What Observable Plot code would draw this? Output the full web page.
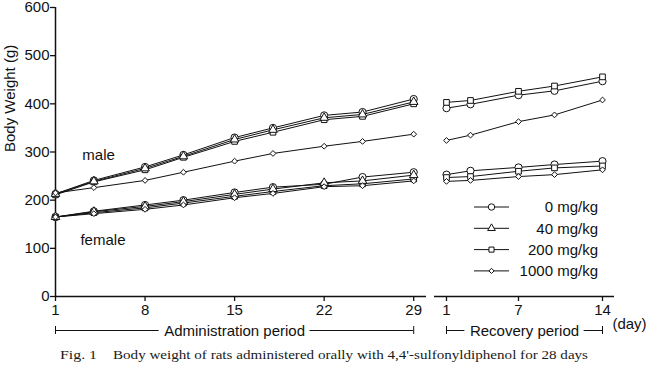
<!DOCTYPE html>
<html><head><meta charset="utf-8">
<script src="https://cdn.jsdelivr.net/npm/d3@7"></script>
<script src="https://cdn.jsdelivr.net/npm/@observablehq/plot@0.6"></script>
<style>
html,body{margin:0;padding:0;background:#fff;}
#chart{position:relative;width:648px;height:370px;overflow:hidden;font-family:"Liberation Sans",Arial,sans-serif;background:#fff;}
#chart > *{position:absolute;top:0;}
</style></head><body><div id="chart"></div>
<script>
const adminDays = [1, 4, 8, 11, 15, 18, 22, 25, 29];
const recoveryDays = [1, 3, 7, 10, 14];
const doses = ["0 mg/kg", "40 mg/kg", "200 mg/kg", "1000 mg/kg"];
const adminTicks = [1, 8, 15, 22, 29];
const recoveryTicks = [1, 7, 14];
const weightTicks = [0, 100, 200, 300, 400, 500, 600];

const maleAdmin0 = [213, 241, 269, 294, 330, 350, 376, 383, 410];
const maleAdmin40 = [213, 239, 266, 291, 326, 346, 371, 378, 404];
const maleAdmin200 = [211, 238, 263, 289, 322, 341, 367, 374, 400];
const maleAdmin1000 = [215, 226, 241, 258, 281, 297, 312, 322, 337];
const femaleAdmin0 = [165, 177, 190, 200, 216, 227, 233, 248, 258];
const femaleAdmin40 = [165, 176, 187, 197, 212, 223, 236, 240, 252];
const femaleAdmin200 = [165, 174, 184, 194, 208, 218, 230, 234, 244];
const femaleAdmin1000 = [165, 172, 181, 190, 205, 214, 228, 230, 240];

const maleRecovery0 = [391, 399, 418, 427, 447];
const maleRecovery200 = [403, 407, 426, 437, 456];
const maleRecovery1000 = [324, 335, 363, 377, 408];
const femaleRecovery0 = [253, 261, 268, 274, 281];
const femaleRecovery200 = [247, 249, 260, 267, 271];
const femaleRecovery1000 = [239, 241, 249, 253, 263];

const sexLabels = ["male", "female"];
const periodLabels = ["Administration period", "Recovery period"];
const captionFig = "Fig. 1";
const captionText = "Body weight of rats administered orally with 4,4'-sulfonyldiphenol for 28 days";

function series(sex, dose, days, values) {
  return days.map((day, i) => ({sex, dose, day, weight: values[i]}));
}
const adminData = [
  ...series("male", doses[3], adminDays, maleAdmin1000),
  ...series("male", doses[2], adminDays, maleAdmin200),
  ...series("male", doses[1], adminDays, maleAdmin40),
  ...series("male", doses[0], adminDays, maleAdmin0),
  ...series("female", doses[3], adminDays, femaleAdmin1000),
  ...series("female", doses[2], adminDays, femaleAdmin200),
  ...series("female", doses[1], adminDays, femaleAdmin40),
  ...series("female", doses[0], adminDays, femaleAdmin0)
];
const recoveryData = [
  ...series("male", doses[3], recoveryDays, maleRecovery1000),
  ...series("male", doses[2], recoveryDays, maleRecovery200),
  ...series("male", doses[0], recoveryDays, maleRecovery0),
  ...series("female", doses[3], recoveryDays, femaleRecovery1000),
  ...series("female", doses[2], recoveryDays, femaleRecovery200),
  ...series("female", doses[0], recoveryDays, femaleRecovery0)
];

const symbolRange = ["circle", "triangle", "square", "diamond2"];
const radius = {"0 mg/kg": 3.6, "40 mg/kg": 3.2, "200 mg/kg": 3.2, "1000 mg/kg": 2.6};
const font = "Liberation Sans, Arial, sans-serif";
const ink = "#111";

const ctx = document.createElement("canvas").getContext("2d");
ctx.font = "15px 'Liberation Sans'";
function textWidth(s) { return ctx.measureText(s).width; }

const common = {
  height: 370, marginTop: 7, marginBottom: 74,
  symbol: {domain: doses, range: symbolRange},
  r: {type: "identity"},
  style: {fontFamily: font, fontSize: "15px", background: "transparent", overflow: "visible", color: ink}
};

function dataMarks(data) {
  return [
    Plot.line(data, {x: "day", y: "weight", z: d => d.sex + d.dose, stroke: ink, strokeWidth: 1}),
    Plot.dot(data, {x: "day", y: "weight", symbol: "dose", r: d => radius[d.dose], fill: "white", stroke: ink, strokeWidth: 1})
  ];
}
function bracket(first, last, label, pxPerDay) {
  const mid = (first + last) / 2;
  const half = (textWidth(label) / 2 + 5) / pxPerDay;
  return [
    Plot.ruleY([0, 0], {x1: [first, mid + half], x2: [mid - half, last], dy: 34, stroke: ink, strokeWidth: 1}),
    Plot.ruleX([first, last], {y1: 0, y2: 0, insetTop: -4, insetBottom: -4, dy: 34, stroke: ink, strokeWidth: 1}),
    Plot.text([label], {x: mid, y: 0, dy: 35, text: d => d, fill: ink, fontSize: 15})
  ];
}

const leftW = 430, leftML = 55, leftMR = 4, leftDomain = [1, 30];
const rightW = 218, rightML = 4, rightMR = 34, rightDomain = [0, 15];

const left = Plot.plot({
  ...common,
  width: leftW, marginLeft: leftML, marginRight: leftMR,
  x: {domain: leftDomain},
  y: {domain: [0, 600]},
  marks: [
    Plot.ruleY([0], {stroke: ink, strokeWidth: 1.5}),
    Plot.ruleX([adminDays[0]], {stroke: ink, strokeWidth: 1.5}),
    Plot.axisY({ticks: weightTicks, tickSize: 5, tickPadding: 1, label: null, strokeWidth: 1.3}),
    Plot.axisX({ticks: adminTicks, tickSize: 5, tickPadding: 3, label: null, strokeWidth: 1.3}),
    Plot.text(["Body Weight (g)"], {frameAnchor: "left", text: d => d, rotate: -90, dx: -45, fill: ink, fontSize: 15}),
    ...dataMarks(adminData),
    Plot.text([sexLabels[0]], {x: 3.1, y: 293, text: d => d, textAnchor: "start", fill: ink, fontSize: 15}),
    Plot.text([sexLabels[1]], {x: 2.95, y: 116, text: d => d, textAnchor: "start", fill: ink, fontSize: 15}),
    ...bracket(adminDays[0], adminDays[adminDays.length - 1], periodLabels[0],
      (leftW - leftML - leftMR) / (leftDomain[1] - leftDomain[0]))
  ]
});

const right = Plot.plot({
  ...common,
  width: rightW, marginLeft: rightML, marginRight: rightMR,
  x: {domain: rightDomain},
  y: {domain: [0, 600], axis: null},
  marks: [
    Plot.ruleY([0], {stroke: ink, strokeWidth: 1.5}),
    Plot.axisX({ticks: recoveryTicks, tickSize: 5, tickPadding: 3, label: null, strokeWidth: 1.3}),
    ...dataMarks(recoveryData),
    ...bracket(recoveryDays[0], recoveryDays[recoveryDays.length - 1], periodLabels[1],
      (rightW - rightML - rightMR) / (rightDomain[1] - rightDomain[0])),
    Plot.text(["(day)"], {x: recoveryTicks[recoveryTicks.length - 1], y: 0, dx: 27, dy: 28, text: d => d, fill: ink, fontSize: 15})
  ]
});

const chart = document.getElementById("chart");
left.style.left = "0px";
right.style.left = leftW + "px";
chart.appendChild(left);
chart.appendChild(right);

// Legend
const legend = d3.create("svg").attr("width", 160).attr("height", 90)
  .style("left", "460px").style("top", "195px").style("overflow", "visible");
const symbolFns = [d3.symbolCircle, d3.symbolTriangle, d3.symbolSquare, d3.symbolDiamond2];
doses.forEach((dose, i) => {
  const g = legend.append("g").attr("transform", `translate(0,${12 + i * 21.3})`);
  g.append("line").attr("x1", 14).attr("x2", 49).attr("stroke", ink).attr("stroke-width", 1);
  g.append("path").attr("transform", "translate(31.5,0)")
    .attr("d", d3.symbol(symbolFns[i], Math.PI * radius[dose] * radius[dose] * 0.8)())
    .attr("fill", "white").attr("stroke", ink);
  g.append("text").attr("x", 138).attr("dy", "0.35em").attr("text-anchor", "end")
    .attr("font-family", font).attr("font-size", 15).attr("fill", ink).text(dose);
});
chart.appendChild(legend.node());

// Caption
const cap = d3.create("svg").attr("width", 648).attr("height", 370).style("left", "0px").style("pointer-events", "none");
const serif = "Liberation Serif, Times New Roman, serif";
cap.append("text").attr("x", 60).attr("y", 359).attr("font-family", serif)
  .attr("font-size", 13).attr("fill", "#1a1a1a").attr("textLength", 37).attr("lengthAdjust", "spacingAndGlyphs").text(captionFig);
cap.append("text").attr("x", 113).attr("y", 359).attr("font-family", serif)
  .attr("font-size", 13).attr("fill", "#1a1a1a").attr("textLength", 475).attr("lengthAdjust", "spacingAndGlyphs").text(captionText);
chart.appendChild(cap.node());
</script></body></html>
